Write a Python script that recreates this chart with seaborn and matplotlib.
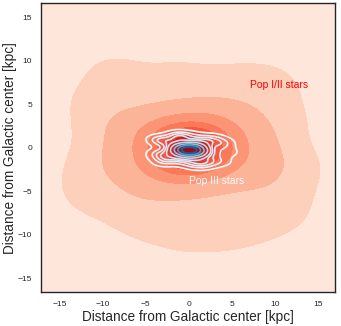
import numpy as np
import pandas as pd
import matplotlib
matplotlib.use("Agg")
import matplotlib.pyplot as plt
import seaborn as sns

# Pop I/II star positions [kpc] (core, disk, halo)
pop12_x = [0.2, -0.5, 0.8, -1.2, 1.5, -0.3, 0.4, -1.8, 2.1, -0.9, 1.1, -2.4, 2.6, 0.0, -0.6,
           1.9, -1.5, 0.6, -0.2, 0.9, -2.9, 3.0, 0.3, -0.8, 1.3, -1.1, 0.1, 2.3, -2.0, 0.5,
           -4.5, 5.1, -3.2, 4.0, -6.5, 7.2, -5.3, 6.0, -2.1, 2.8, -7.8, 8.3, -4.0, 3.6, -8.5,
           8.6, -1.0, 1.2, -6.2, 6.7, -3.5, 4.4, -5.8, 5.6, -2.6, 3.1, -7.0, 7.5, -0.4, 0.7,
           -4.8, 5.9, -3.0, 2.2, -6.9, 6.4, -1.7, 1.9, -5.5, 4.9,
           -12.0, 12.3, -10.5, 11.0, -8.0, 7.5, -3.5, 2.5, -12.8, 12.8, -9.5, 9.8, -5.5, 5.0,
           -11.5, 12.0, -1.0, 0.5, -7.0, 8.5, -12.3, 11.5, -9.8, 10.0, -2.0, 4.0, -12.9, 12.9,
           6.5, 10.3]
pop12_y = [-0.3, 0.1, -0.6, -0.4, 0.2, -0.8, 0.5, 0.3, -0.5, -1.1, 0.9, -0.2, 0.4, -1.3, 1.0,
           -1.2, 0.8, -0.1, 0.3, -0.9, 0.6, -0.8, 1.4, -0.5, -0.3, 0.2, -0.6, 0.9, -1.0, 0.1,
           1.2, -1.5, -2.8, 2.5, -0.5, 0.3, 3.1, -3.4, 4.2, -4.6, 1.8, -1.1, -4.1, 3.9, -2.4,
           1.9, -3.9, 4.8, -3.3, 3.0, 2.2, -2.6, 0.9, 0.8, -1.9, 1.8, -1.6, -2.5, -5.2, 3.2,
           -2.0, 2.1, 3.8, -3.1, 2.6, -0.9, -2.5, 2.6, -4.8, 4.6,
           2.5, -1.0, -6.5, 5.5, 8.5, -8.5, 9.5, -10.2, -3.0, 2.8, 5.0, -5.8, -9.0, 8.8,
           -0.8, -4.0, -10.5, 9.2, -7.8, 7.2, 5.8, -7.0, 9.0, 8.0, -9.0, -9.4, -5.5, -2.5,
           -9.2, -7.8]

# Pop III star positions [kpc]
pop3_x = [0.0, 0.3, -0.3, 0.6, -0.6, 0.9, -0.9, 1.2, -1.2, 0.1, 0.4, -0.2, 0.7, -0.5, 1.5,
          -1.4, 0.2, -0.1, 0.5, -0.4, 1.0, -0.8, 0.8, -0.7, 0.0,
          -2.5, 2.8, -1.8, 2.0, -3.2, 3.5, -1.0, 1.3, -2.7, 3.0, -0.5, 0.6, -3.4, 2.4, 1.6,
          -3.6, 4.7, -3.1, 4.2, -1.6, 1.8, -3.7, 3.9, 0.5, -0.9]
pop3_y = [-0.3, -0.2, -0.4, -0.3, -0.2, -0.4, -0.3, -0.2, -0.4, 0.0, -0.6, -0.6, 0.0, 0.1, -0.3,
          -0.1, -0.5, -0.1, -0.1, -0.3, -0.6, -0.6, 0.2, 0.2, -0.8,
          0.5, -0.8, -1.3, 0.9, -0.6, 0.3, 1.1, -1.5, -1.2, 1.1, -1.6, 1.3, 0.9, -1.6, 0.6,
          0.9, -0.5, -1.7, 0.6, 1.3, -2.0, -0.8, -1.6, -2.0, 1.5]

pop12_levels = [0, 0.08, 0.36, 0.58, 0.72, 0.81, 0.88, 0.92, 0.95, 0.98, 1]

sns.set_style("white")
plt.rcParams["font.family"] = ["Liberation Sans", "DejaVu Sans"]

fig = plt.figure(figsize=(3.41, 3.26), dpi=100)
ax = fig.add_axes([0.12, 0.104, 0.862, 0.886])

reds = sns.color_palette("Reds", 10)
ax.set_facecolor(reds[0])

sns.kdeplot(x=pop12_x, y=pop12_y, fill=True, levels=pop12_levels, thresh=0,
            color="red", colors=reds, bw_adjust=1.0, ax=ax)
sns.kdeplot(x=pop3_x, y=pop3_y, fill=False, levels=10, thresh=0.05,
            color="blue", cmap="Blues", bw_adjust=1.0, linewidths=1.2, ax=ax)

ax.text(7.1, 7.2, "Pop I/II stars", color="red", fontsize=7.5, va="center")
ax.text(0.0, -3.8, "Pop III stars", color="#f7fbff", fontsize=7.5, va="center")

ax.set_xlim(-17.2, 17.0)
ax.set_ylim(-16.6, 16.6)
ax.set_xlabel("Distance from Galactic center [kpc]", fontsize=9.8)
ax.set_ylabel("Distance from Galactic center [kpc]", fontsize=9.8)
ax.xaxis.set_label_coords(0.5, -0.062)
ax.yaxis.set_label_coords(-0.08, 0.5)
ax.tick_params(labelsize=6, pad=3)
for s in ax.spines.values():
    s.set_linewidth(1.0)

fig.savefig("out.png", dpi=100)
